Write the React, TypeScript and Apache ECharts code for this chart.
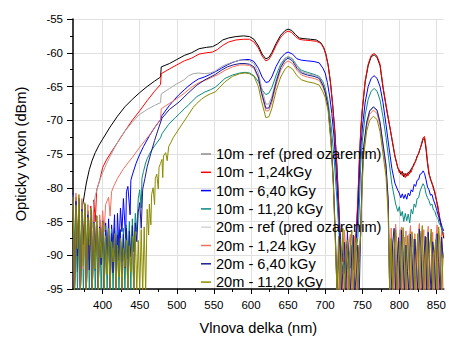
import React, { useEffect, useRef } from "react";
import * as echarts from "echarts";

type P = [number, number];

// ---------- tick / label values ----------
const xMajorTicks = [400, 450, 500, 550, 600, 650, 700, 750, 800, 850];
const xMinorTicks = [375, 425, 475, 525, 575, 625, 675, 725, 775, 825];

const seriesNames = [
  "10m - ref (pred ozarenim)",
  "10m - 1,24kGy",
  "10m - 6,40 kGy",
  "10m - 11,20 kGy",
  "20m - ref (pred ozarenim)",
  "20m - 1,24 kGy",
  "20m - 6,40 kGy",
  "20m - 11,20 kGy",
];
const seriesColors = ["#000000", "#ff0000", "#0000ff", "#0b8a82", "#a6a6a6", "#f0705e", "#1c1c94", "#8b8b00"];

// ---------- 10m - ref ----------
const ref10Noise = [-83.5, -95.5, -82.2, -92.5, -84.0, -95.5, -83.0, -82.0]; // 360.. step 2
const ref10Main: P[] = [[376,-80.6],[378,-79.3],[382,-77.3],[386,-75.9],[390,-74.8],[395,-73.7],[400,-72.8],[410,-71.0],[420,-69.4],[430,-68.0],[440,-66.9],[450,-65.9],[460,-65.0],[470,-64.2],[478,-63.6],[479,-62.1],[490,-61.6],[500,-61.0],[510,-60.4],[520,-60.0],[530,-59.4],[540,-59.2],[548,-59.1],[555,-58.7],[562,-58.1],[570,-57.8],[580,-57.6],[590,-57.5],[598,-57.6],[604,-58.0],[610,-59.0],[615,-60.2],[620,-60.9],[624,-60.7],[628,-60.0],[634,-58.6],[640,-57.4],[646,-56.7],[650,-56.5],[655,-56.7],[660,-57.3],[665,-57.8],[670,-57.9],[680,-58.0],[688,-58.1],[694,-58.5],[698,-59.2],[701,-60.2],[704,-61.8],[707,-64.2],[710,-67.5],[713,-71.5],[716,-77.0],[719,-84.0],[721,-89.0]];
const ref10Valley = [-90.6, -89.3, -91.4, -89.9, -92.1, -90.2, -89.4, -91.3, -89.7, -88.4]; // 722.. step 2
const ref10Peak: P[] = [[742,-86.8],[744,-82.5],[746,-76.5],[748,-71.6],[750,-68.6],[754,-64.3],[758,-61.9],[762,-60.6],[766,-60.3],[770,-60.7],[774,-61.9],[778,-65.2],[783,-68.5],[787,-70.9],[790,-72.8],[794,-75.3],[798,-77.1]];
const ref10Tail = [-77.4,-78.0,-77.6,-78.4,-77.9,-78.3,-77.7,-77.9,-77.2,-76.9,-76.4,-76.1,-75.3,-75.0,-74.2,-73.6,-72.8,-72.7,-74.3,-76.4,-78.0,-78.6,-79.4,-79.9,-80.9,-81.8,-83.0,-84.1,-85.6,-86.4,-87.5]; // 800.. step 2

// ---------- 10m - 1,24kGy ----------
const d124_10Noise = [-82.0,-95.5,-81.4,-90.2,-83.1,-95.5,-82.5,-88.3,-84.0,-95.5,-83.4,-90.6,-82.7,-95.5,-81.8,-85.0];
const d124_10Main: P[] = [[392,-80.3],[396,-78.9],[400,-77.0],[405,-75.9],[410,-75.0],[420,-73.3],[430,-71.6],[440,-70.0],[450,-68.6],[460,-67.1],[470,-65.7],[478,-64.7],[479,-63.1],[490,-62.4],[500,-61.8],[510,-61.2],[520,-60.8],[530,-60.2],[540,-60.0],[548,-59.9],[555,-59.5],[562,-58.9],[570,-58.4],[580,-58.1],[590,-58.0],[598,-58.0],[604,-58.4],[610,-59.3],[615,-60.5],[620,-61.2],[624,-61.0],[628,-60.3],[634,-58.9],[640,-57.7],[646,-57.0],[650,-56.8],[655,-57.0],[660,-57.6],[665,-58.0],[670,-58.1],[680,-58.2],[688,-58.3],[694,-58.6],[698,-59.3],[701,-60.3],[704,-61.9],[707,-64.3],[710,-67.7],[713,-71.8],[716,-77.4],[719,-84.5],[721,-89.3]];
const d124_10Valley = [-89.8,-91.0,-89.4,-90.6,-89.1,-91.5,-90.0,-89.2,-90.4,-88.0];
const d124_10Peak: P[] = [[742,-86.2],[744,-81.8],[746,-76.0],[748,-71.3],[750,-68.4],[754,-64.1],[758,-61.7],[762,-60.4],[766,-60.1],[770,-60.5],[774,-61.7],[778,-65.0],[783,-68.3],[787,-70.8],[790,-72.7],[794,-75.2],[798,-77.0]];
const d124_10Tail = [-77.8,-77.5,-78.2,-77.8,-78.5,-77.9,-78.2,-77.5,-77.7,-77.0,-76.6,-75.9,-75.5,-74.8,-74.3,-73.4,-72.6,-72.4,-73.9,-76.1,-77.7,-78.9,-79.2,-80.2,-80.6,-81.9,-82.7,-84.3,-85.3,-86.6,-87.2];

// ---------- 10m - 6,40 kGy ----------
const d640_10Noise = [-81.2,-95.5,-82.0,-89.5,-83.5,-95.5,-82.8,-91.0,-84.2,-95.5,-83.6,-88.7,-85.0,-95.5,-84.1,-92.3,-85.6,-95.5,-84.8,-89.6,-86.0,-95.5,-85.2,-90.8,-84.6,-95.5,-85.5,-88.9,-84.0,-93.5,-83.8,-89.0,-83.0,-86.5];
const d640_10Main: P[] = [[428,-81.6],[431,-87.5],[432,-80.6],[434,-79.8],[437,-84.0],[438,-78.9],[440,-78.1],[445,-76.4],[449,-75.3],[455,-73.9],[463,-72.3],[470,-71.1],[478,-69.9],[480,-69.3],[490,-67.8],[497,-66.9],[503,-66.2],[510,-65.5],[515,-65.0],[522,-64.4],[529,-63.9],[537,-63.6],[545,-63.2],[552,-62.8],[560,-62.3],[568,-61.8],[576,-61.4],[585,-61.1],[592,-61.0],[598,-61.0],[604,-61.3],[610,-62.3],[615,-63.6],[620,-64.4],[624,-64.3],[628,-63.6],[634,-62.0],[640,-60.8],[646,-60.1],[650,-59.9],[656,-60.2],[662,-60.9],[668,-61.1],[676,-61.2],[685,-61.3],[692,-61.5],[697,-62.3],[700,-63.0],[703,-64.4],[706,-66.4],[709,-69.0],[712,-72.5],[715,-77.8],[718,-84.0],[721,-89.0]];
const d640_10Valley = [-91.2,-88.6,-92.8,-89.5,-87.9,-92.0,-89.0,-91.6,-88.3,-90.7,-87.8];
const d640_10Peak: P[] = [[744,-84.5],[746,-79.0],[748,-74.2],[750,-71.3],[754,-67.3],[758,-65.0],[762,-63.8],[766,-63.4],[770,-63.8],[774,-65.0],[778,-67.4],[782,-70.6],[786,-74.0],[790,-77.2],[794,-79.3],[798,-80.4]];
const d640_10Tail = [-80.8,-81.5,-80.9,-81.6,-81.0,-81.7,-80.8,-81.2,-80.3,-80.6,-79.5,-79.8,-78.9,-78.8,-78.0,-77.9,-77.5,-77.9,-78.8,-79.9,-80.3,-81.1,-81.0,-81.8,-82.4,-83.1,-83.9,-84.6,-85.2,-85.9,-86.4];

// ---------- 10m - 11,20 kGy ----------
const d1120_10Noise = [-82.5,-88.0,-81.6,-95.5,-83.2,-90.5,-82.0,-95.5,-84.6,-89.2,-83.5,-95.5,-85.3,-91.8,-84.0,-95.5,-86.2,-90.0,-85.0,-95.5,-86.5,-92.4,-85.6,-95.5,-87.0,-90.3,-86.1,-95.5,-87.5,-93.0,-86.4,-95.5,-87.2,-91.0,-86.0,-95.5,-85.5,-90.6,-85.0,-95.5,-84.6,-89.5];
const d1120_10Main: P[] = [[444,-83.8],[446,-86.5],[448,-81.6],[450,-80.3],[452,-83.0],[453,-78.6],[455,-77.6],[458,-76.3],[460,-75.7],[465,-74.6],[470,-73.8],[478,-72.6],[480,-72.0],[489,-70.6],[498,-69.6],[503,-69.1],[510,-68.3],[516,-67.7],[527,-66.5],[538,-65.8],[545,-65.5],[552,-65.1],[558,-64.5],[565,-63.8],[575,-63.3],[585,-63.0],[592,-62.9],[598,-63.0],[604,-63.4],[610,-64.3],[615,-65.5],[620,-66.2],[624,-66.0],[628,-65.2],[634,-63.3],[640,-61.7],[646,-60.8],[650,-60.6],[656,-60.9],[662,-61.9],[668,-62.6],[676,-62.9],[685,-63.2],[692,-63.5],[697,-64.3],[700,-65.2],[704,-67.3],[708,-70.8],[712,-75.5],[716,-82.0],[720,-89.0]];
const d1120_10Valley = [-90.4,-92.5,-88.9,-91.3,-93.4,-89.6,-91.9,-88.5,-92.2,-90.1,-89.2,-87.4];
const d1120_10Peak: P[] = [[746,-83.0],[748,-76.5],[750,-73.2],[754,-69.2],[758,-66.9],[762,-65.7],[766,-65.3],[770,-65.7],[774,-67.0],[778,-69.5],[782,-72.5],[786,-76.0],[790,-79.5],[795,-82.4],[798,-83.5]];
const d1120_10Tail = [-82.8,-84.2,-83.5,-85.0,-83.8,-84.9,-83.9,-85.2,-83.2,-83.9,-82.4,-82.9,-81.6,-81.5,-80.5,-79.9,-79.4,-79.8,-80.9,-81.5,-81.9,-82.6,-82.4,-83.3,-83.5,-84.3,-84.5,-85.4,-85.6,-86.4,-86.8];

// ---------- 20m - ref ----------
const ref20Noise = [-81.0,-95.5,-82.4,-88.6,-81.8,-95.5,-83.3,-91.2,-82.6,-95.5,-84.0,-89.4,-83.1,-86.0];
const ref20Main: P[] = [[388,-82.4],[390,-81.2],[392,-80.4],[396,-78.9],[400,-77.8],[405,-76.5],[410,-75.4],[415,-74.3],[423,-72.7],[430,-71.6],[440,-70.3],[449,-69.2],[460,-68.4],[470,-67.8],[478,-67.4],[479,-66.1],[490,-65.3],[500,-64.6],[510,-64.0],[516,-63.4],[522,-63.1],[529,-63.0],[537,-63.1],[545,-63.0],[552,-62.7],[558,-62.2],[565,-61.8],[575,-61.4],[585,-61.1],[592,-61.1],[598,-61.2],[604,-61.6],[610,-63.0],[614,-65.0],[620,-67.6],[624,-67.6],[628,-66.5],[634,-64.0],[640,-62.0],[646,-60.9],[650,-60.5],[656,-60.9],[662,-62.0],[668,-62.8],[676,-63.1],[685,-63.3],[692,-63.6],[697,-64.6],[700,-65.6],[704,-67.8],[708,-72.8],[711,-78.8],[714,-87.5],[716,-95.5]];
const ref20Valley = [-88.5,-95.5,-90.2,-87.4,-95.5,-89.0,-92.6,-95.5,-87.9,-90.8,-95.5,-88.2,-93.0,-95.5,-89.3]; // 718.. step 2
const ref20Peak: P[] = [[748,-86.0],[750,-78.2],[752,-74.0],[756,-70.4],[760,-68.7],[765,-68.1],[770,-68.6],[774,-70.4],[778,-73.6],[782,-76.8],[785,-82.0],[787,-95.5]];
const ref20Tail = [-89.0,-95.5,-86.5,-92.4,-95.5,-88.0,-86.2,-95.5,-90.6,-87.3,-95.5,-91.8,-86.9,-95.5,-89.4,-87.6,-95.5,-92.0,-88.1,-95.5,-86.4,-90.7,-95.5,-87.8,-93.1,-95.5,-88.6,-86.7,-95.5,-91.5,-88.9,-95.5,-87.0,-92.7,-95.5,-89.6]; // 789.. step 2

// ---------- 20m - 1,24 kGy ----------
const d124_20Noise = [-81.5,-95.5,-80.8,-89.5,-82.2,-95.5,-81.6,-92.0,-83.0,-95.5,-82.5,-90.3,-84.2,-95.5,-83.6,-88.9,-85.0,-95.5,-84.0,-87.5];
const d124_20Main: P[] = [[400,-83.4],[402,-86.5],[404,-82.5],[408,-81.4],[410,-84.2],[412,-80.6],[414,-80.0],[420,-78.6],[428,-77.2],[435,-76.2],[440,-75.5],[450,-74.0],[463,-72.2],[470,-71.1],[478,-69.9],[479,-68.3],[490,-67.5],[500,-66.8],[510,-66.0],[520,-65.1],[530,-64.4],[540,-64.0],[548,-63.6],[556,-63.2],[565,-62.6],[575,-62.1],[585,-61.8],[592,-61.8],[598,-61.9],[604,-62.3],[610,-63.8],[614,-66.0],[620,-68.6],[624,-68.6],[628,-67.4],[634,-64.7],[640,-62.6],[646,-61.5],[650,-61.2],[656,-61.6],[662,-62.6],[668,-63.3],[676,-63.6],[685,-63.8],[692,-64.1],[697,-65.1],[700,-66.0],[704,-68.2],[708,-73.2],[711,-79.3],[714,-88.5],[716,-95.5]];
const d124_20Valley = [-95.5,-87.6,-91.4,-95.5,-86.3,-89.8,-95.5,-88.4,-86.9,-95.5,-90.5,-87.2,-95.5,-88.8,-91.0];
const d124_20Peak: P[] = [[748,-86.4],[750,-78.6],[752,-74.4],[756,-70.8],[760,-69.1],[765,-68.5],[770,-69.0],[774,-70.8],[778,-74.0],[782,-77.2],[785,-82.5],[787,-95.5]];
const d124_20Tail = [-86.0,-91.5,-95.5,-85.4,-88.7,-95.5,-87.0,-85.8,-95.5,-89.9,-86.4,-95.5,-88.2,-85.6,-95.5,-90.3,-86.8,-95.5,-87.5,-85.3,-95.5,-89.1,-86.2,-95.5,-88.0,-85.7,-95.5,-90.8,-86.6,-95.5,-87.9,-85.5,-95.5,-89.4,-86.3,-95.5];

// ---------- 20m - 6,40 kGy ----------
const d640_20Noise = [-80.8,-95.5,-82.0,-90.1,-81.5,-95.5,-83.2,-88.4,-82.4,-95.5,-84.0,-92.2,-83.3,-95.5,-85.1,-89.6,-84.2,-95.5,-85.8,-91.4,-84.9,-95.5,-86.3,-90.0,-85.4,-95.5,-86.8,-92.6,-85.9,-95.5,-87.0,-90.8,-86.2,-95.5,-86.9,-91.9,-86.0,-95.5,-86.4,-90.2,-85.6,-95.5,-85.2,-88.0];
const d640_20Main: P[] = [[448,-83.6],[450,-82.2],[452,-86.0],[454,-80.2],[457,-78.6],[460,-76.9],[465,-74.9],[470,-73.0],[475,-71.3],[480,-69.7],[490,-68.4],[503,-67.3],[515,-66.0],[527,-64.8],[538,-64.0],[545,-63.6],[552,-63.2],[560,-62.6],[568,-62.1],[576,-61.8],[585,-61.6],[592,-61.6],[598,-61.7],[604,-62.1],[610,-63.6],[614,-65.8],[620,-68.2],[624,-68.2],[628,-67.0],[634,-64.3],[640,-62.2],[646,-61.1],[650,-60.8],[656,-61.2],[662,-62.3],[668,-63.0],[676,-63.3],[685,-63.5],[692,-63.8],[697,-64.8],[700,-65.8],[704,-68.0],[708,-73.0],[711,-79.0],[714,-88.0],[716,-95.5]];
const d640_20Valley = [-90.0,-86.8,-95.5,-92.3,-88.1,-95.5,-86.5,-91.0,-95.5,-89.2,-87.0,-95.5,-92.8,-88.5,-95.5];
const d640_20Peak: P[] = [[748,-85.8],[750,-78.0],[752,-73.8],[756,-70.3],[760,-68.6],[765,-68.0],[770,-68.5],[774,-70.3],[778,-73.5],[782,-76.6],[785,-81.8],[787,-95.5]];
const d640_20Tail = [-95.5,-88.2,-86.0,-95.5,-91.2,-87.4,-95.5,-86.3,-90.0,-95.5,-88.5,-92.4,-95.5,-86.9,-89.7,-95.5,-87.6,-91.3,-95.5,-86.1,-88.9,-95.5,-90.6,-87.2,-95.5,-86.6,-92.0,-95.5,-88.0,-89.8,-95.5,-86.8,-91.1,-95.5,-87.3,-90.4];

// ---------- 20m - 11,20 kGy ----------
const d1120_20Noise = [-81.3,-95.5,-82.6,-89.0,-81.0,-95.5,-83.5,-91.6,-82.2,-95.5,-84.4,-88.5,-83.0,-95.5,-85.2,-92.0,-84.1,-95.5,-86.0,-90.4,-85.0,-95.5,-87.1,-92.8,-86.0,-95.5,-88.0,-91.0,-86.8,-95.5,-88.5,-93.2,-87.5,-95.5,-89.0,-91.8,-87.8,-95.5,-88.6,-92.5,-87.2,-95.5,-86.5,-95.5,-87.8,-95.5,-86.2,-95.5,-85.8,-95.5];
const d1120_20Main: P[] = [[460,-83.2],[462,-87.0],[463,-82.4],[465,-85.5],[466,-81.0],[468,-80.0],[470,-82.5],[471,-78.6],[473,-78.0],[475,-80.2],[476,-77.0],[478,-76.4],[480,-75.8],[481,-78.5],[482,-75.3],[485,-74.8],[487,-76.0],[489,-73.9],[492,-73.3],[495,-72.6],[501,-71.6],[507,-70.6],[515,-69.3],[522,-68.1],[527,-67.5],[533,-66.9],[538,-66.5],[545,-66.1],[552,-65.8],[558,-65.1],[565,-64.3],[575,-63.5],[585,-63.1],[592,-63.0],[598,-63.1],[604,-63.5],[610,-65.0],[614,-67.1],[620,-69.6],[624,-69.5],[628,-68.3],[634,-65.6],[640,-63.6],[646,-62.4],[650,-62.0],[656,-62.4],[662,-63.4],[668,-64.0],[676,-64.3],[685,-64.5],[692,-64.8],[697,-65.8],[700,-66.6],[704,-68.6],[708,-73.6],[711,-79.6],[714,-89.0],[716,-95.5]];
const d1120_20Valley = [-87.2,-95.5,-89.6,-86.0,-95.5,-91.5,-87.8,-95.5,-88.9,-86.4,-95.5,-90.9,-87.5,-95.5,-89.8];
const d1120_20Peak: P[] = [[748,-87.0],[750,-79.5],[752,-75.2],[756,-71.6],[760,-70.0],[765,-69.4],[770,-69.9],[774,-71.7],[778,-75.0],[782,-78.3],[785,-84.0],[787,-95.5]];
const d1120_20Tail = [-87.5,-95.5,-89.2,-86.3,-95.5,-90.8,-87.9,-95.5,-85.9,-89.5,-95.5,-87.1,-91.2,-95.5,-86.5,-88.8,-95.5,-90.1,-86.8,-95.5,-88.4,-85.6,-95.5,-91.0,-87.3,-95.5,-89.0,-86.1,-95.5,-90.2,-87.7,-95.5,-85.8,-88.6,-95.5,-89.9];

// sampled segments: readings every 2 nm from a start wavelength
const seg = (start: number, vals: number[]): P[] => vals.map((v, i) => [start + 2 * i, v] as P);

const seriesData: P[][] = [
  [...seg(360, ref10Noise), ...ref10Main, ...seg(722, ref10Valley), ...ref10Peak, ...seg(800, ref10Tail)],
  [...seg(360, d124_10Noise), ...d124_10Main, ...seg(722, d124_10Valley), ...d124_10Peak, ...seg(800, d124_10Tail)],
  [...seg(360, d640_10Noise), ...d640_10Main, ...seg(722, d640_10Valley), ...d640_10Peak, ...seg(800, d640_10Tail)],
  [...seg(360, d1120_10Noise), ...d1120_10Main, ...seg(722, d1120_10Valley), ...d1120_10Peak, ...seg(800, d1120_10Tail)],
  [...seg(360, ref20Noise), ...ref20Main, ...seg(718, ref20Valley), ...ref20Peak, ...seg(789, ref20Tail)],
  [...seg(360, d124_20Noise), ...d124_20Main, ...seg(718, d124_20Valley), ...d124_20Peak, ...seg(789, d124_20Tail)],
  [...seg(360, d640_20Noise), ...d640_20Main, ...seg(718, d640_20Valley), ...d640_20Peak, ...seg(789, d640_20Tail)],
  [...seg(360, d1120_20Noise), ...d1120_20Main, ...seg(718, d1120_20Valley), ...d1120_20Peak, ...seg(789, d1120_20Tail)],
];

const FONT = "'Liberation Sans', Arial, Helvetica, sans-serif";

export default function App() {
  const ref = useRef<HTMLDivElement>(null);

  useEffect(() => {
    if (!ref.current) return;
    const chart = echarts.init(ref.current, null, { renderer: "svg" });
    const legendOverride: Record<number, string> = { 0: "#8e8e8e", 4: "#d6d6d6" };
    chart.setOption({
      animation: false,
      backgroundColor: "#ffffff",
      textStyle: { fontFamily: FONT },
      grid: { left: 73, right: 1, top: 19, bottom: 43, containLabel: false },
      legend: {
        orient: "vertical",
        left: 201,
        top: 146,
        padding: 0,
        itemWidth: 10,
        itemHeight: 1.5,
        itemGap: 2.3,
        icon: "rect",
        selectedMode: false,
        textStyle: { fontSize: 14.6, color: "#000", lineHeight: 16, fontFamily: FONT },
        data: seriesNames.map((n, i) =>
          legendOverride[i] ? { name: n, itemStyle: { color: legendOverride[i] } } : { name: n }
        ),
      },
      xAxis: [
        {
          type: "value",
          min: 360,
          max: 860,
          position: "bottom",
          name: "Vlnova delka (nm)",
          nameLocation: "middle",
          nameGap: 31,
          nameTextStyle: { fontSize: 14.6, color: "#000", fontFamily: FONT },
          axisLine: { show: true, onZero: false, lineStyle: { color: "#000", width: 1.5 } },
          axisTick: { show: true, length: 5, customValues: xMajorTicks, lineStyle: { color: "#000", width: 1 } },
          axisLabel: { customValues: xMajorTicks, color: "#000", fontSize: 11.5, margin: 10, fontFamily: FONT },
          splitLine: { show: true, lineStyle: { color: "#e0e0e0", width: 1 } },
        },
        {
          type: "value",
          min: 360,
          max: 860,
          position: "bottom",
          axisLine: { show: false },
          axisTick: { show: true, length: 3, customValues: xMinorTicks, lineStyle: { color: "#000", width: 1 } },
          axisLabel: { show: false },
          splitLine: { show: false },
        },
      ],
      yAxis: {
        type: "value",
        min: -95,
        max: -55,
        interval: 5,
        name: "Opticky vykon (dBm)",
        nameLocation: "middle",
        nameGap: 45,
        nameRotate: 90,
        nameTextStyle: { fontSize: 14.6, color: "#000", fontFamily: FONT },
        axisLine: { show: true, onZero: false, lineStyle: { color: "#000", width: 1.5 } },
        axisTick: { show: true, length: 6, lineStyle: { color: "#000", width: 1 } },
        minorTick: { show: true, splitNumber: 2, length: 3, lineStyle: { color: "#000", width: 1 } },
        axisLabel: { color: "#000", fontSize: 11.5, margin: 10, fontFamily: FONT },
        splitLine: { show: true, lineStyle: { color: "#e0e0e0", width: 1 } },
        minorSplitLine: { show: false },
      },
      series: seriesNames.map((n, i) => ({
        name: n,
        type: "line",
        xAxisIndex: 0,
        data: seriesData[i],
        showSymbol: false,
        symbol: "none",
        clip: true,
        silent: true,
        color: seriesColors[i],
        lineStyle: { width: 1, color: seriesColors[i] },
        itemStyle: { color: seriesColors[i] },
        emphasis: { disabled: true },
      })),
    });
    return () => chart.dispose();
  }, []);

  return <div ref={ref} style={{ position: "fixed", left: 0, top: 0, width: 449, height: 340 }} />;
}
